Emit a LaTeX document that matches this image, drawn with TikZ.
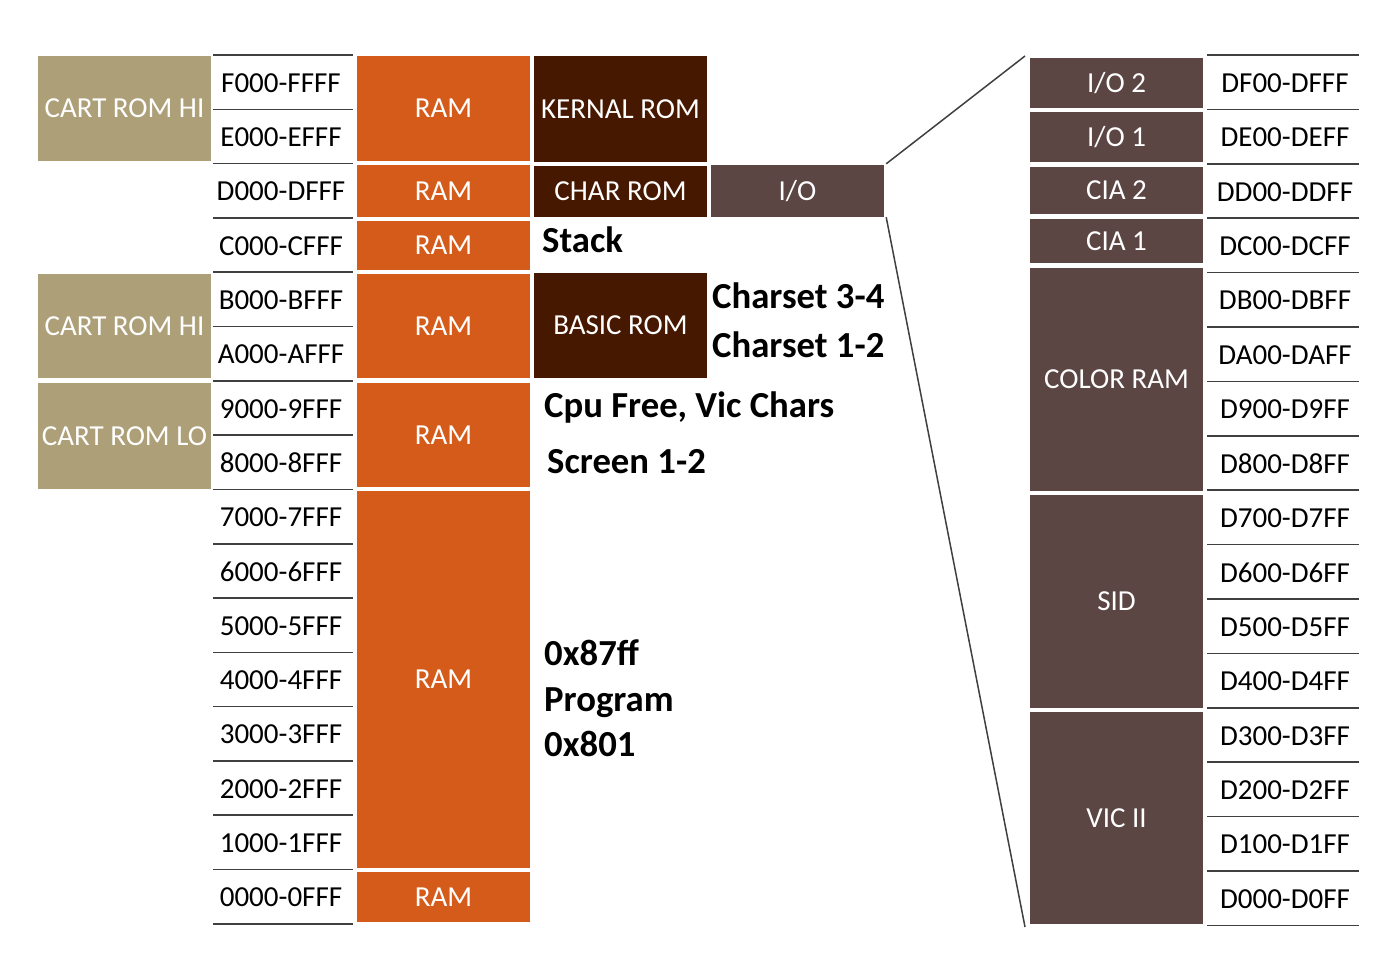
\documentclass[tikz,border=0pt]{standalone}
\usepackage{fontspec}
\setmainfont{Carlito}
\definecolor{cartc}{HTML}{AD9F78}
\definecolor{ramc}{HTML}{D55B1A}
\definecolor{romc}{HTML}{461800}
\definecolor{ioc}{HTML}{5B4644}
\definecolor{sepc}{HTML}{404040}
\newcommand{\blkbox}[7]{\node[blk, fill=#6, minimum width={#4pt-#2pt}, minimum height={#5pt-#3pt}] (#1) at ({(#2+#4)/2},{(#3+#5)/2}) {#7};}
\begin{document}
\begin{tikzpicture}[x=1pt,y=-1pt,
  blk/.style={inner sep=0pt, text=white, font=\fontsize{29}{31}\selectfont},
  addr/.style={inner sep=0pt, text=black, font=\fontsize{29}{31}\selectfont},
  note/.style={inner sep=0pt, anchor=base west, text=black, font=\bfseries\fontsize{36.7}{40}\selectfont},
  sep/.style={draw=sepc, line width=1.6pt},
  link/.style={draw=sepc, line width=1.5pt}]
\useasboundingbox[fill=white] (0,0) rectangle (1391,964);

% left cartridge column
\blkbox{cartA}{38}{56}{211}{161}{cartc}{CART ROM HI}
\blkbox{cartB}{38}{274}{211}{378}{cartc}{CART ROM HI}
\blkbox{cartC}{38}{383}{211}{489}{cartc}{CART ROM LO}

% left address rows
\foreach \k in {0,...,16} \draw[sep] (213,{55+54.3*\k}) -- (353,{55+54.3*\k});
\foreach \t [count=\k from 0] in {F000-FFFF,E000-EFFF,D000-DFFF,C000-CFFF,B000-BFFF,A000-AFFF,9000-9FFF,8000-8FFF,7000-7FFF,6000-6FFF,5000-5FFF,4000-4FFF,3000-3FFF,2000-2FFF,1000-1FFF,0000-0FFF}
  \node[addr] (la\k) at (281,{55.8+54.3*(\k+0.5)}) {\t};

% RAM column
\blkbox{ramA}{357}{56}{530}{161}{ramc}{RAM}
\blkbox{ramB}{357}{165}{530}{217}{ramc}{RAM}
\blkbox{ramC}{357}{221}{530}{270}{ramc}{RAM}
\blkbox{ramD}{357}{274}{530}{378}{ramc}{RAM}
\blkbox{ramE}{357}{383}{530}{487}{ramc}{RAM}
\blkbox{ramF}{357}{491}{530}{868}{ramc}{RAM}
\blkbox{ramG}{357}{872}{530}{922}{ramc}{RAM}

% ROM column
\blkbox{kernal}{534}{56}{707}{162}{romc}{KERNAL ROM}
\blkbox{charrom}{534}{166}{707}{217}{romc}{CHAR ROM}
\blkbox{basic}{534}{273}{707}{378}{romc}{BASIC ROM}

% I/O
\blkbox{io}{711}{165}{884}{217}{ioc}{I/O}

% notes
\node[note] (nStack) at (542,252) {Stack};
\node[note] (nCs34) at (712,308) {Charset 3-4};
\node[note] (nCs12) at (712,357) {Charset 1-2};
\node[note] (nCpu) at (544,417) {Cpu Free, Vic Chars};
\node[note] (nScr) at (547,473) {Screen 1-2};
\node[note] (nHi) at (544,665) {0x87ff};
\node[note] (nProg) at (544,711) {Program};
\node[note] (nLo) at (544,756) {0x801};

% right I/O detail column
\blkbox{io2}{1030}{58}{1203}{108}{ioc}{I/O 2}
\blkbox{io1}{1030}{112}{1203}{162}{ioc}{I/O 1}
\blkbox{cia2}{1030}{167}{1203}{214}{ioc}{CIA 2}
\blkbox{cia1}{1030}{219}{1203}{263}{ioc}{CIA 1}
\blkbox{colram}{1030}{268}{1203}{491}{ioc}{COLOR RAM}
\blkbox{sid}{1030}{495}{1203}{708}{ioc}{SID}
\blkbox{vic}{1030}{712}{1203}{924}{ioc}{VIC II}

\foreach \k in {0,...,16} \draw[sep] (1207,{55+54.4*\k}) -- (1359,{55+54.4*\k});
\foreach \t [count=\k from 0] in {DF00-DFFF,DE00-DEFF,DD00-DDFF,DC00-DCFF,DB00-DBFF,DA00-DAFF,D900-D9FF,D800-D8FF,D700-D7FF,D600-D6FF,D500-D5FF,D400-D4FF,D300-D3FF,D200-D2FF,D100-D1FF,D000-D0FF}
  \node[addr] (ra\k) at (1285,{55.8+54.4*(\k+0.5)}) {\t};

% zoom lines
\coordinate (zt) at (1025,56);
\coordinate (zb) at (1025,927);
\draw[link] ([xshift=2pt,yshift=1pt]io.north east) -- (zt);
\draw[link] ([xshift=2pt]io.south east) -- (zb);
\end{tikzpicture}
\end{document}
